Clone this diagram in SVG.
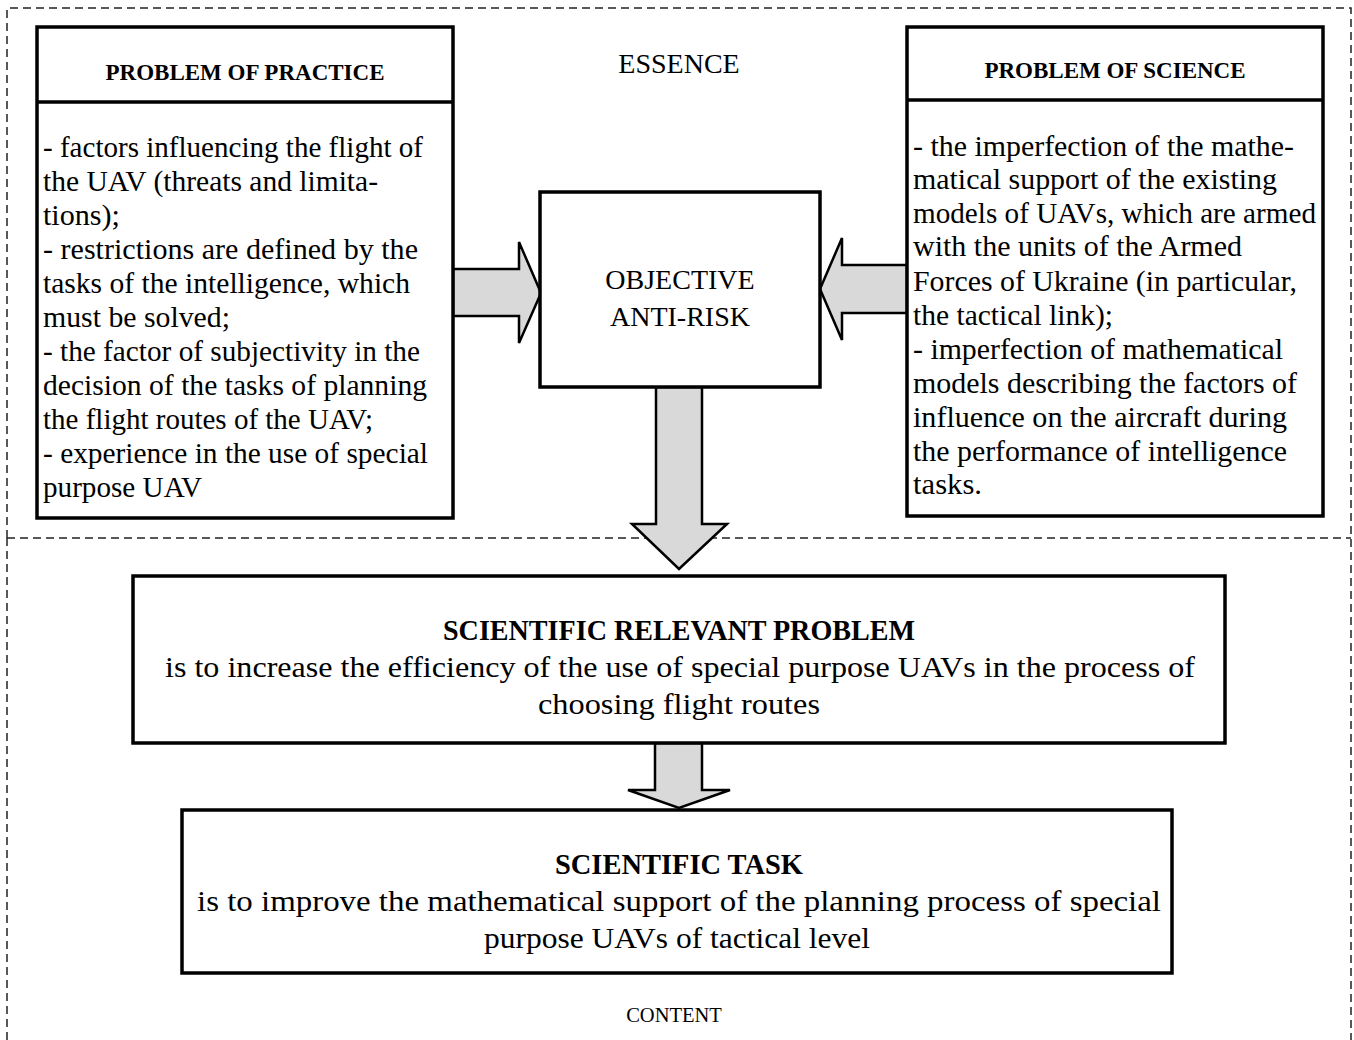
<svg xmlns="http://www.w3.org/2000/svg" width="1354" height="1040" viewBox="0 0 1354 1040">
<style>
.dash{fill:none;stroke:#222;stroke-width:1.5;stroke-dasharray:8 5}
.box{fill:#fff;stroke:#000;stroke-width:3.5}
.arr{fill:#d9d9d9;stroke:#000;stroke-width:2.5;stroke-linejoin:miter}
.t{font-family:"Liberation Serif","DejaVu Serif",serif;fill:#000}
.h{font-size:23px;font-weight:bold;text-anchor:middle}
.b{font-size:29px}
.c{font-size:28px;text-anchor:middle}
.m{font-size:29px;text-anchor:middle}
.mb{font-size:28.5px;font-weight:bold;text-anchor:middle}
</style>
<g id="frames">
<path class="dash" d="M7,538 L7,8 L1351,8 L1351,1040"/>
<path class="dash" d="M7,538 L1351,538"/>
<path class="dash" d="M7,538 L7,1040"/>
</g>
<text class="t c" x="679" y="73">ESSENCE</text>
<g id="connectors">
<path class="arr" d="M453,269 L519,269 L519,242 L541,293 L519,343 L519,316 L453,316 Z"/>
<path class="arr" d="M907,265 L842,265 L842,238 L820,289 L842,340 L842,313 L907,313 Z"/>
<path class="arr" d="M656,387 L702,387 L702,524 L727,524 L679,569 L632,524 L656,524 Z"/>
<path class="arr" d="M655,743 L702,743 L702,790 L730,790 L679,808 L628,790 L655,790 Z"/>
</g>
<g id="practice">
<rect class="box" x="37" y="27" width="416" height="491"/>
<line x1="37" y1="102" x2="453" y2="102" stroke="#000" stroke-width="3.5"/>
<text class="t h" x="245" y="80">PROBLEM OF PRACTICE</text>
<g class="t b">
<text x="43" y="157" textLength="380" lengthAdjust="spacingAndGlyphs">- factors influencing the flight of</text>
<text x="43" y="191" textLength="335" lengthAdjust="spacingAndGlyphs">the UAV (threats and limita-</text>
<text x="43" y="225" textLength="77" lengthAdjust="spacingAndGlyphs">tions);</text>
<text x="43" y="259" textLength="375" lengthAdjust="spacingAndGlyphs">- restrictions are defined by the</text>
<text x="43" y="293" textLength="367" lengthAdjust="spacingAndGlyphs">tasks of the intelligence, which</text>
<text x="43" y="327" textLength="187" lengthAdjust="spacingAndGlyphs">must be solved;</text>
<text x="43" y="361" textLength="377" lengthAdjust="spacingAndGlyphs">- the factor of subjectivity in the</text>
<text x="43" y="395" textLength="384" lengthAdjust="spacingAndGlyphs">decision of the tasks of planning</text>
<text x="43" y="429" textLength="330" lengthAdjust="spacingAndGlyphs">the flight routes of the UAV;</text>
<text x="43" y="463" textLength="385" lengthAdjust="spacingAndGlyphs">- experience in the use of special</text>
<text x="43" y="497" textLength="159" lengthAdjust="spacingAndGlyphs">purpose UAV</text>
</g>
</g>
<g id="science">
<rect class="box" x="907" y="27" width="416" height="489"/>
<line x1="907" y1="100" x2="1323" y2="100" stroke="#000" stroke-width="3.5"/>
<text class="t h" x="1115" y="78">PROBLEM OF SCIENCE</text>
<g class="t b">
<text x="913" y="156" textLength="381" lengthAdjust="spacingAndGlyphs">- the imperfection of the mathe-</text>
<text x="913" y="189" textLength="364" lengthAdjust="spacingAndGlyphs">matical support of the existing</text>
<text x="913" y="223" textLength="403" lengthAdjust="spacingAndGlyphs">models of UAVs, which are armed</text>
<text x="913" y="256" textLength="329" lengthAdjust="spacingAndGlyphs">with the units of the Armed</text>
<text x="913" y="291" textLength="384" lengthAdjust="spacingAndGlyphs">Forces of Ukraine (in particular,</text>
<text x="913" y="325" textLength="200" lengthAdjust="spacingAndGlyphs">the tactical link);</text>
<text x="913" y="359" textLength="370" lengthAdjust="spacingAndGlyphs">- imperfection of mathematical</text>
<text x="913" y="393" textLength="384" lengthAdjust="spacingAndGlyphs">models describing the factors of</text>
<text x="913" y="427" textLength="374" lengthAdjust="spacingAndGlyphs">influence on the aircraft during</text>
<text x="913" y="461" textLength="374" lengthAdjust="spacingAndGlyphs">the performance of intelligence</text>
<text x="913" y="494" textLength="69" lengthAdjust="spacingAndGlyphs">tasks.</text>
</g>
</g>
<g id="objective">
<rect class="box" x="540" y="192" width="280" height="195"/>
<text class="t c" x="680" y="289">OBJECTIVE</text>
<text class="t c" x="680" y="326">ANTI-RISK</text>
</g>
<g id="relevant">
<rect class="box" x="133" y="576" width="1092" height="167"/>
<text class="t mb" x="679" y="640" textLength="472" lengthAdjust="spacingAndGlyphs">SCIENTIFIC RELEVANT PROBLEM</text>
<text class="t m" x="680" y="677" textLength="1030" lengthAdjust="spacingAndGlyphs">is to increase the efficiency of the use of special purpose UAVs in the process of</text>
<text class="t m" x="679" y="714" textLength="282" lengthAdjust="spacingAndGlyphs">choosing flight routes</text>
</g>
<g id="task">
<rect class="box" x="182" y="810" width="990" height="163"/>
<text class="t mb" x="679" y="874" textLength="248" lengthAdjust="spacingAndGlyphs">SCIENTIFIC TASK</text>
<text class="t m" x="679" y="911" textLength="964" lengthAdjust="spacingAndGlyphs">is to improve the mathematical support of the planning process of special</text>
<text class="t m" x="677" y="948" textLength="386" lengthAdjust="spacingAndGlyphs">purpose UAVs of tactical level</text>
</g>
<text class="t" x="674" y="1022" font-size="20.5" text-anchor="middle">CONTENT</text>
</svg>
